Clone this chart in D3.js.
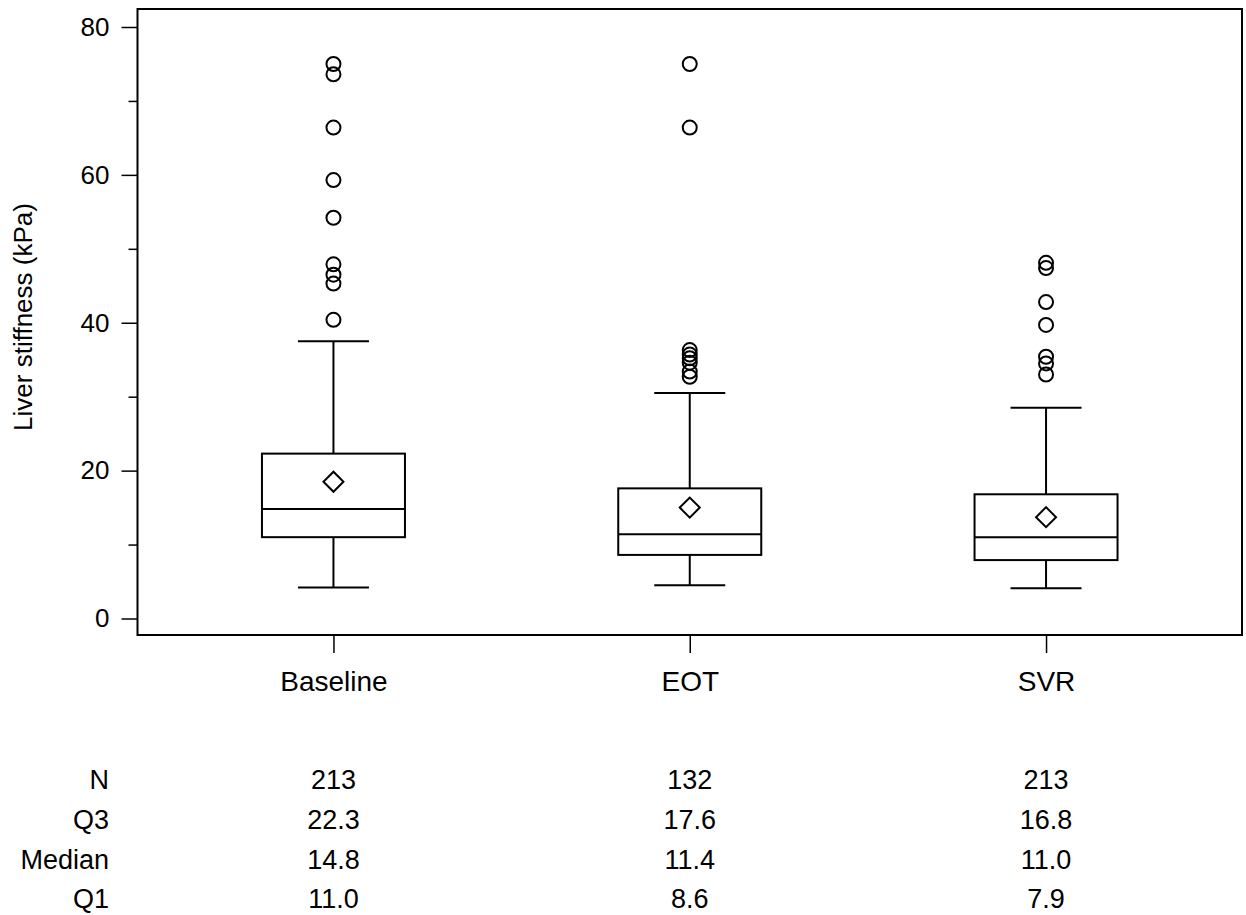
<!DOCTYPE html>
<html>
<head>
<meta charset="utf-8">
<script src="https://cdn.jsdelivr.net/npm/d3@7"></script>
<style>
  body { margin: 0; background: #fff; }
  text { font-family: "Liberation Sans", Arial, sans-serif; fill: #000; }
</style>
</head>
<body>
<svg></svg>
<script>
// groups and summary stats (table values)
let groups = ["Baseline", "EOT", "SVR"]
let nVals = [213, 132, 213]
let q3Vals = [22.3, 17.6, 16.8]
let medVals = [14.8, 11.4, 11.0]
let q1Vals = [11.0, 8.6, 7.9]
let meanVals = [18.5, 15.0, 13.7]
let whiskLo = [4.2, 4.5, 4.1]
let whiskHi = [37.5, 30.5, 28.5]

// outliers
let outBaseline = [75.0, 73.6, 66.4, 59.3, 54.2, 47.9, 46.5, 45.3, 40.4]
let outEOT = [75.0, 66.4, 36.3, 35.7, 35.2, 34.6, 33.4, 32.7]
let outSVR = [48.1, 47.4, 42.8, 39.7, 35.4, 34.5, 33.0]
let outliers = [outBaseline, outEOT, outSVR]

let majorTicks = [0, 20, 40, 60, 80]
let minorTicks = [10, 30, 50, 70]

let tableRows = ["N", "Q3", "Median", "Q1"]

let width = 1246
let height = 915
let plotLeft = 137.5
let plotRight = 1242
let plotTop = 9
let plotBottom = 635

let svg = d3.select('svg')
  .attr('width', width)
  .attr('height', height)

let xScale = d3.scalePoint()
  .domain(groups)
  .range([plotLeft, plotRight])
  .padding(0.55)

let yScale = d3.scaleLinear()
  .domain([0, 80])
  .range([618.5, 27])

let boxW = 143
let capW = 71

// frame
svg.append('rect')
  .attr('x', plotLeft)
  .attr('y', plotTop)
  .attr('width', plotRight - plotLeft)
  .attr('height', plotBottom - plotTop)
  .attr('fill', 'none')
  .attr('stroke', '#000')
  .attr('stroke-width', 2)

// y axis
let yAxis = d3.axisLeft(yScale).tickValues(majorTicks).tickSize(16).tickPadding(12)
let gy = svg.append('g')
  .attr('transform', 'translate(' + plotLeft + ',0)')
  .call(yAxis)
gy.select('.domain').remove()
gy.selectAll('line').attr('stroke-width', 1.5)
gy.selectAll('text').style('font-size', '26px').attr('font-family', null)

let yMinor = d3.axisLeft(yScale).tickValues(minorTicks).tickSize(9).tickFormat('')
let gym = svg.append('g')
  .attr('transform', 'translate(' + plotLeft + ',0)')
  .call(yMinor)
gym.select('.domain').remove()
gym.selectAll('line').attr('stroke-width', 1.5)

// x axis
let xAxis = d3.axisBottom(xScale).tickSize(18).tickPadding(18)
let gx = svg.append('g')
  .attr('transform', 'translate(0,' + plotBottom + ')')
  .call(xAxis)
gx.select('.domain').remove()
gx.selectAll('line').attr('stroke-width', 1.5)
gx.selectAll('text').style('font-size', '28px').attr('font-family', null)

// y label
svg.append('text')
  .attr('transform', 'translate(32,317) rotate(-90)')
  .attr('text-anchor', 'middle')
  .style('font-size', '26px')
  .text('Liver stiffness (kPa)')

// boxes
let idx = d3.range(groups.length)
let g = svg.append('g').attr('fill', 'none').attr('stroke', '#000').attr('stroke-width', 2)

g.selectAll('.whisk')
  .data(idx).enter().append('line')
  .attr('x1', (i) => xScale(groups[i]))
  .attr('x2', (i) => xScale(groups[i]))
  .attr('y1', (i) => yScale(whiskLo[i]))
  .attr('y2', (i) => yScale(whiskHi[i]))

g.selectAll('.capHi')
  .data(idx).enter().append('line')
  .attr('x1', (i) => xScale(groups[i]) - capW / 2)
  .attr('x2', (i) => xScale(groups[i]) + capW / 2)
  .attr('y1', (i) => yScale(whiskHi[i]))
  .attr('y2', (i) => yScale(whiskHi[i]))

g.selectAll('.capLo')
  .data(idx).enter().append('line')
  .attr('x1', (i) => xScale(groups[i]) - capW / 2)
  .attr('x2', (i) => xScale(groups[i]) + capW / 2)
  .attr('y1', (i) => yScale(whiskLo[i]))
  .attr('y2', (i) => yScale(whiskLo[i]))

g.selectAll('.box')
  .data(idx).enter().append('rect')
  .attr('fill', '#fff')
  .attr('x', (i) => xScale(groups[i]) - boxW / 2)
  .attr('width', boxW)
  .attr('y', (i) => yScale(q3Vals[i]))
  .attr('height', (i) => yScale(q1Vals[i]) - yScale(q3Vals[i]))

g.selectAll('.med')
  .data(idx).enter().append('line')
  .attr('x1', (i) => xScale(groups[i]) - boxW / 2)
  .attr('x2', (i) => xScale(groups[i]) + boxW / 2)
  .attr('y1', (i) => yScale(medVals[i]))
  .attr('y2', (i) => yScale(medVals[i]))

let diamond = d3.symbol().type(d3.symbolSquare).size(200)
g.selectAll('.mean')
  .data(idx).enter().append('path')
  .attr('d', diamond)
  .attr('transform', (i) => 'translate(' + xScale(groups[i]) + ',' + yScale(meanVals[i]) + ') rotate(45)')

// outliers
idx.forEach((i) => {
  g.selectAll('.out' + i)
    .data(outliers[i]).enter().append('circle')
    .attr('class', 'out' + i)
    .attr('cx', xScale(groups[i]))
    .attr('cy', (d) => yScale(d))
    .attr('r', 7)
})

// summary table
let rowY = [780, 820, 860, 899]
let rowVals = [nVals, q3Vals.map((d) => d.toFixed(1)), medVals.map((d) => d.toFixed(1)), q1Vals.map((d) => d.toFixed(1))]

tableRows.forEach((r, j) => {
  svg.append('text')
    .attr('x', 109)
    .attr('y', rowY[j])
    .attr('dy', '0.35em')
    .attr('text-anchor', 'end')
    .style('font-size', '27px')
    .text(r)
  svg.selectAll('.cell' + j)
    .data(groups).enter().append('text')
    .attr('class', 'cell' + j)
    .attr('x', (d) => xScale(d))
    .attr('y', rowY[j])
    .attr('dy', '0.35em')
    .attr('text-anchor', 'middle')
    .style('font-size', '27px')
    .text((d, k) => rowVals[j][k])
})
</script>
</body>
</html>
